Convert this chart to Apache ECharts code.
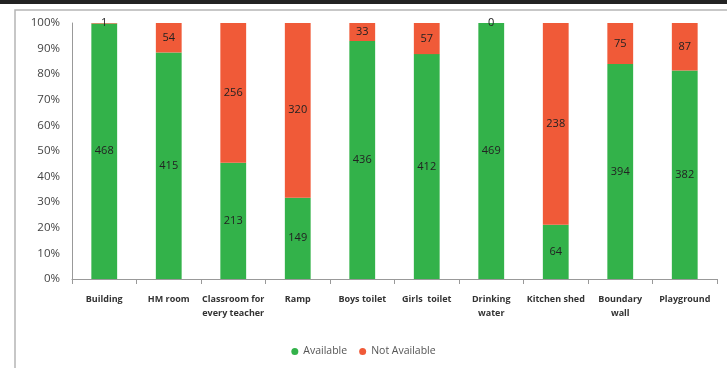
<!DOCTYPE html>
<html>
<head>
	<title>Facilities</title>
	<script src="https://cdn.jsdelivr.net/npm/echarts@6/dist/echarts.min.js"></script>
</head>
<body style="margin:0">
	<div id="main" style="width:727px;height:368px"></div>
	<script type="text/javascript">
var categories = ['Building', 'HM room', 'Classroom for\nevery teacher', 'Ramp', 'Boys toilet',
    'Girls  toilet', 'Drinking\nwater', 'Kitchen shed', 'Boundary\nwall', 'Playground'];
var available = [468, 415, 213, 149, 436, 412, 469, 64, 394, 382];
var notAvailable = [1, 54, 256, 320, 33, 57, 0, 238, 75, 87];

// turn counts into shares of each column
function share(arr, i) {
    var total = available[i] + notAvailable[i];
    return arr[i] / total * 100;
}
var availPct = available.map(function (v, i) { return share(available, i); });
var notPct = notAvailable.map(function (v, i) { return share(notAvailable, i); });

var myChart = echarts.init(document.getElementById('main'));

var labelStyle = {
    show: true,
    position: 'inside',
    color: '#222',
    fontSize: 11,
    fontFamily: 'Open Sans'
};

var option = {
    animation: false,
    graphic: [
        { type: 'rect', shape: { x: 0, y: 0, width: 727, height: 4 }, style: { fill: '#222' } },
        { type: 'rect', shape: { x: 15, y: 10, width: 720, height: 370 },
          style: { fill: 'none', stroke: '#b5b5b5', lineWidth: 1.5 } }
    ],
    grid: { left: 72, right: 10, top: 23, bottom: 89 },
    legend: {
        bottom: 3,
        left: 'center',
        icon: 'circle',
        itemWidth: 7,
        itemHeight: 7,
        itemGap: 12,
        textStyle: { fontSize: 10.5, color: '#555', fontFamily: 'Open Sans' },
        data: ['Available', 'Not Available']
    },
    xAxis: {
        type: 'category',
        data: categories,
        axisLine: { lineStyle: { color: '#999' } },
        axisTick: { show: true, lineStyle: { color: '#999' } },
        axisLabel: {
            interval: 0, color: '#333', fontSize: 9, fontWeight: 'bold',
            fontFamily: 'Open Sans', margin: 13, lineHeight: 14
        }
    },
    yAxis: {
        type: 'value',
        min: 0, max: 100, interval: 10,
        axisLine: { show: true, lineStyle: { color: '#999' } },
        splitLine: { show: false },
        axisLabel: {
            formatter: '{value}%', color: '#444', fontSize: 11.5,
            fontFamily: 'Open Sans', margin: 12
        }
    },
    series: [
        {
            name: 'Available', type: 'bar', stack: 'all', barWidth: '40%',
            itemStyle: { color: '#33b24a' },
            data: availPct,
            label: Object.assign({}, labelStyle, {
                formatter: function (p) { return available[p.dataIndex]; }
            })
        },
        {
            name: 'Not Available', type: 'bar', stack: 'all', barWidth: '40%',
            itemStyle: { color: '#f05a38' },
            data: notPct,
            label: Object.assign({}, labelStyle, {
                formatter: function (p) { return notAvailable[p.dataIndex]; }
            })
        }
    ]
};

myChart.setOption(option);
	</script>
</body>
</html>
